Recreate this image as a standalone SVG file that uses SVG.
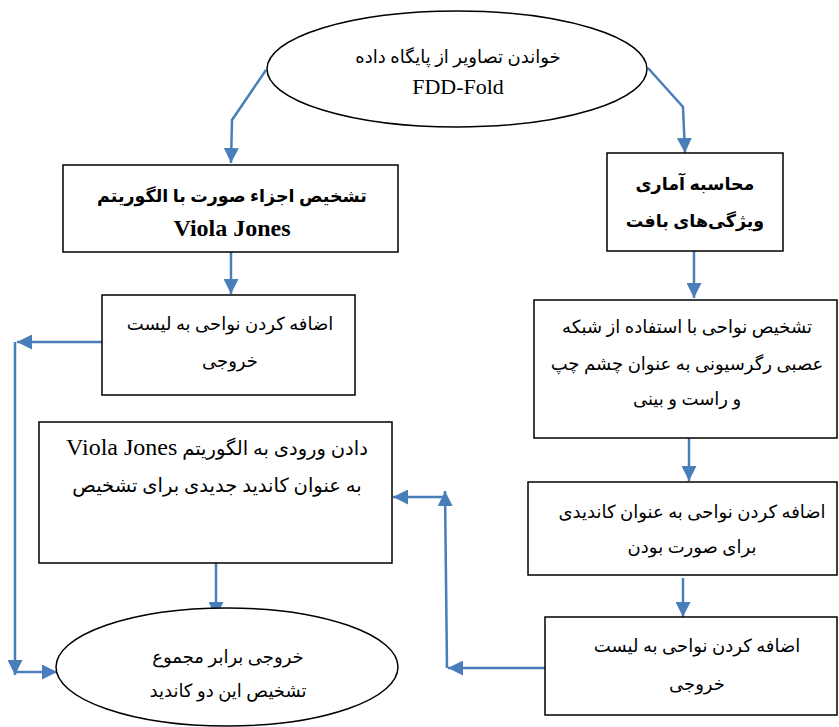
<svg xmlns="http://www.w3.org/2000/svg" width="839" height="727" viewBox="0 0 839 727">
<style>
.n{fill:#fff;stroke:#000;stroke-width:1.5}
.t{font-family:"Liberation Serif","DejaVu Sans",serif;font-size:18px;fill:#000;text-anchor:middle}
.b{font-weight:bold;font-size:17.5px}
.l{font-size:22px}
.c{fill:none;stroke:#4a7ebb;stroke-width:2.5}
</style>
<defs>
<marker id="ah" viewBox="0 0 10 10" refX="10" refY="5" markerWidth="15" markerHeight="15" markerUnits="userSpaceOnUse" orient="auto">
<path d="M0,0 L10,5 L0,10 z" fill="#4a7ebb"/>
</marker>
</defs>
<rect width="839" height="727" fill="#fff"/>
<g id="connectors">
<path class="c" d="M266,70 L232,120 L231,163" marker-end="url(#ah)"/>
<path class="c" d="M648,68 L683,107 L685,153" marker-end="url(#ah)"/>
<path class="c" d="M231,252 L231,294" marker-end="url(#ah)"/>
<path class="c" d="M102,342 L17,342" marker-end="url(#ah)"/>
<path class="c" d="M15,342 L15,675" marker-end="url(#ah)"/>
<path class="c" d="M15,672 L57,672" marker-end="url(#ah)"/>
<path class="c" d="M216,563 L216,617" marker-end="url(#ah)"/>
<path class="c" d="M694,251 L694,298" marker-end="url(#ah)"/>
<path class="c" d="M689,438 L689,481" marker-end="url(#ah)"/>
<path class="c" d="M683,578 L683,617" marker-end="url(#ah)"/>
<path class="c" d="M545,668 L448,668" marker-end="url(#ah)"/>
<path class="c" d="M447,668 L445,491" marker-end="url(#ah)"/>
<path class="c" d="M445,497 L393,497" marker-end="url(#ah)"/>
</g>
<g id="start">
<ellipse class="n" cx="457" cy="69" rx="190" ry="58"/>
<text class="t" x="458" y="63" direction="rtl">خواندن تصاویر از پایگاه داده</text>
<text class="t l" x="458" y="94">FDD-Fold</text>
</g>
<g id="viola">
<rect class="n" x="63" y="165" width="335" height="87"/>
<text class="t b" x="232" y="202" direction="rtl">تشخیص اجزاء صورت با الگوریتم</text>
<text class="t b" x="232" y="236" style="font-size:24px">Viola Jones</text>
</g>
<g id="addLeft">
<rect class="n" x="102" y="295" width="253" height="100"/>
<text class="t" x="230" y="330" direction="rtl">اضافه کردن نواحی به لیست</text>
<text class="t" x="230" y="367" direction="rtl">خروجی</text>
</g>
<g id="violaInput">
<rect class="n" x="39" y="422" width="353" height="141"/>
<text class="t" x="217" y="455" direction="rtl" style="font-size:19.5px">دادن ورودی به الگوریتم <tspan style="font-size:24px">Viola Jones</tspan></text>
<text class="t" x="217" y="492" direction="rtl" style="font-size:19.5px">به عنوان کاندید جدیدی برای تشخیص</text>
</g>
<g id="output">
<ellipse class="n" cx="227" cy="667" rx="171" ry="59"/>
<text class="t" x="228" y="663" direction="rtl">خروجی برابر مجموع</text>
<text class="t" x="228" y="697" direction="rtl">تشخیص این دو کاندید</text>
</g>
<g id="texture">
<rect class="n" x="607" y="153" width="176" height="98"/>
<text class="t b" x="695" y="190" direction="rtl">محاسبه آماری</text>
<text class="t b" x="695" y="227" direction="rtl">ویژگی‌های بافت</text>
</g>
<g id="nn">
<rect class="n" x="534" y="300" width="303" height="138"/>
<text class="t" x="687" y="333" direction="rtl">تشخیص نواحی با استفاده از شبکه</text>
<text class="t" x="687" y="370" direction="rtl">عصبی رگرسیونی به عنوان چشم چپ</text>
<text class="t" x="687" y="405" direction="rtl">و راست و بینی</text>
</g>
<g id="candidate">
<rect class="n" x="528" y="482" width="309" height="93"/>
<text class="t" x="692" y="518" direction="rtl">اضافه کردن نواحی به عنوان کاندیدی</text>
<text class="t" x="692" y="553" direction="rtl">برای صورت بودن</text>
</g>
<g id="addRight">
<rect class="n" x="545" y="617" width="292" height="98"/>
<text class="t" x="697" y="652" direction="rtl">اضافه کردن نواحی به لیست</text>
<text class="t" x="697" y="690" direction="rtl">خروجی</text>
</g>
</svg>
